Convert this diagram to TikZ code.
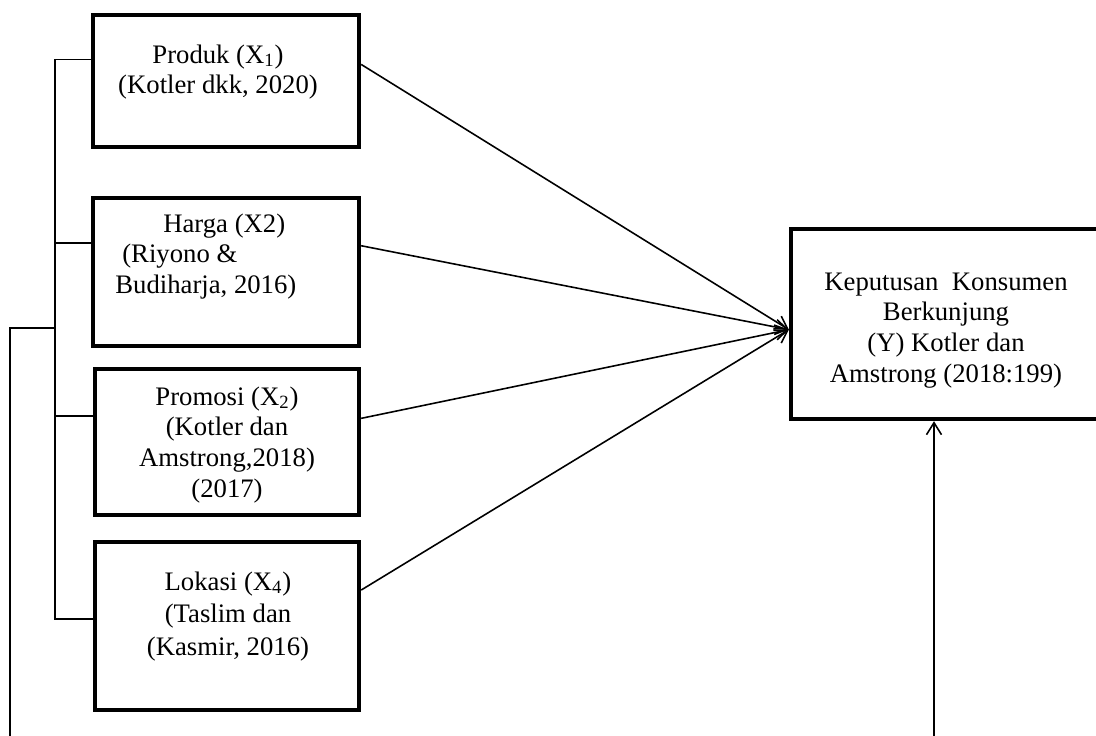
\documentclass[tikz,border=0pt]{standalone}
\usepackage{fontspec}
\setmainfont{Liberation Serif}
\usetikzlibrary{arrows.meta,calc}
\tikzset{
  varbox/.style={draw=black, line width=2.5pt, rectangle, inner sep=0pt, fill=none},
  lbl/.style={inner sep=0pt, font=\fontsize{15.2}{17.6}\selectfont},
  conn/.style={draw=black, line width=0.9pt},
  arr/.style={conn, -{Straight Barb[length=2.4mm, width=3mm, line width=0.9pt]}}
}
\setlength{\tabcolsep}{0pt}
\begin{document}
\begin{tikzpicture}[x=0.02cm,y=-0.02cm]
\useasboundingbox (0,0) rectangle (1096,735);
\clip (0,0) rectangle (1096,735);
% boxes
\node[varbox, minimum width=5.32cm, minimum height=2.64cm] (b1) at (226,81) {};
\node[varbox, minimum width=5.32cm, minimum height=2.96cm] (b2) at (226,272) {};
\node[varbox, minimum width=5.28cm, minimum height=2.92cm] (b3) at (227,442) {};
\node[varbox, minimum width=5.28cm, minimum height=3.36cm] (b4) at (227,626) {};
\node[varbox, minimum width=6.38cm, minimum height=3.80cm] (Y) at (950.5,324) {};
% texts
\node[lbl, anchor=base] (t1) at (218,63) {\begin{tabular}[t]{c}Produk (X\textsubscript{1})\\(Kotler dkk, 2020)\end{tabular}};
\node[lbl, anchor=base west] (t2) at (115,232) {\begin{tabular}[t]{l}\hspace*{0.96cm}Harga (X2)\\\hspace*{0.14cm}(Riyono \&\\Budiharja, 2016)\end{tabular}};
\node[lbl, anchor=base] (t3) at (227,405) {\begin{tabular}[t]{c}Promosi (X\textsubscript{2})\\(Kotler dan\\Amstrong,2018)\\(2017)\end{tabular}};
\node[lbl, anchor=base] (t4) at (228,590) {\begin{tabular}[t]{c}Lokasi (X\textsubscript{4})\\[1pt](Taslim dan\\[1pt](Kasmir, 2016)\end{tabular}};
\node[lbl, anchor=base] (ty) at (946,290) {\begin{tabular}[t]{c}Keputusan\ \ Konsumen\\Berkunjung\\(Y) Kotler dan\\Amstrong (2018:199)\end{tabular}};
% arrows into Y
\draw[arr] (b1.7) -- (Y.182);
\draw[arr] (b2.11.5) -- (Y.182);
\draw[arr] (b3.10.7) -- (Y.182);
\draw[arr] (b4.15.3) -- (Y.182);
% left bracket
\coordinate (bus) at (55,0);
\draw[conn] (b1.171.9) -- (b1.171.9 -| bus) -- (b4.177.4 -| bus) -- (b4.177.4);
\draw[conn] (b2.168.5) -- (b2.168.5 -| bus);
\draw[conn] (b3.169.3) -- (b3.169.3 -| bus);
\coordinate (ojoin) at (55,328);
\coordinate (obot) at (10,740);
\draw[conn] (obot) |- (ojoin);
% bottom arrow into Y
\coordinate (ybot) at (934,740);
\draw[arr] (ybot) -- (ybot |- Y.south);
\end{tikzpicture}
\end{document}
